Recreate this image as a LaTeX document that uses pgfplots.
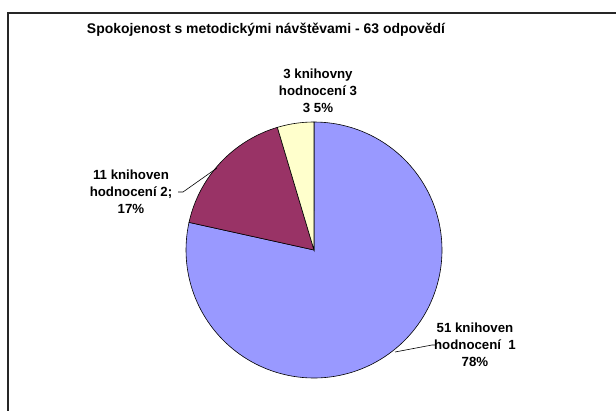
\documentclass[border=0pt]{standalone}
\usepackage{pgfplots}
\pgfplotsset{compat=1.18}
\usepgfplotslibrary{polar}
\usepackage{fontspec}
\setmainfont{Liberation Sans}

\definecolor{pieblue}{HTML}{9999FF}
\definecolor{piered}{HTML}{993366}
\definecolor{pieyellow}{HTML}{FFFFCC}

% counts of libraries per rating
\def\nA{51}
\def\nB{11}
\def\nC{3}
\pgfmathsetmacro\total{\nA+\nB+\nC}
\pgfmathsetmacro\aA{90}
\pgfmathsetmacro\aB{\aA-360*(\nA/\total)}
\pgfmathsetmacro\aC{\aB-360*(\nB/\total)}
\pgfmathsetmacro\aD{\aC-360*(\nC/\total)}

\begin{document}
\begin{tikzpicture}[x=1bp,y=1bp]
\fill[white] (0,0) rectangle (616,410);
\draw[black!85, line width=1.3bp] (8,-10) -- (8,397) -- (640,397);
\node[font=\bfseries\fontsize{14}{17}\selectfont] at (266,380)
  {Spokojenost s metodickými návštěvami - 63 odpovědí};

\begin{polaraxis}[
  at={(314bp,160bp)}, anchor=center,
  hide axis, scale only axis,
  width=256bp, height=256bp,
  ymin=0, ymax=1, clip=false,
]
\addplot[draw=black, line width=0.6bp, fill=pieblue, no markers,
  domain=\aB:\aA, samples=140] {1} -- (axis cs:0,0) -- cycle;
\addplot[draw=black, line width=0.6bp, fill=piered, no markers,
  domain=\aC:\aB, samples=40] {1} -- (axis cs:0,0) -- cycle;
\addplot[draw=black, line width=0.6bp, fill=pieyellow, no markers,
  domain=\aD:\aC, samples=15] {1} -- (axis cs:0,0) -- cycle;
\end{polaraxis}

\begin{scope}[every node/.style={font=\bfseries\fontsize{13.3}{17}\selectfont, align=center}]
\node at (131,218) {11 knihoven\\hodnocení 2;\\17\%};
\node at (318,319) {3 knihovny\\hodnocení 3\\3 5\%};
\node at (475,65) {51 knihoven\\hodnocení~~1\\78\%};
\end{scope}
\draw[black, line width=0.6bp] (178,218) -- (183,218) -- (217,242);
\draw[black, line width=0.6bp] (395,58) -- (432,65) -- (436,65);

\pgfresetboundingbox
\useasboundingbox (0,0) rectangle (616,410);
\end{tikzpicture}
\end{document}
